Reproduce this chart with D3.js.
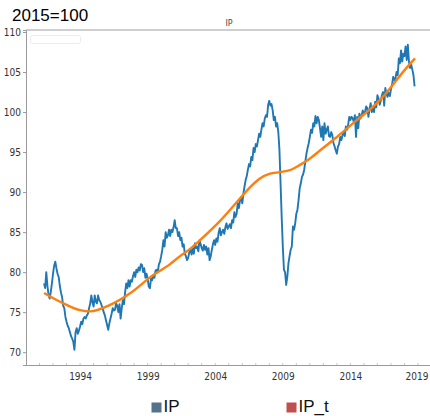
<!DOCTYPE html>
<html><head><meta charset="utf-8">
<script src="https://cdn.jsdelivr.net/npm/d3@7"></script>
<style>body{margin:0;background:#fff}svg{display:block}</style>
</head><body><svg id="c" width="430" height="416"></svg>
<script>
// ---- data ----
const startYear = 1991, startMonth = 5; // first monthly observation
const ipValues = [
// 1991 May-Dec
78.6,78.0,80.0,78.3,77.2,76.7,77.5,78.6,
// 1992
79.8,80.8,81.3,80.5,79.8,79.4,78.3,77.5,76.9,75.8,75.5,74.4,
// 1993
73.8,73.3,73.0,72.5,72.0,71.7,71.3,70.3,72.5,73.0,72.3,72.7,
// 1994
73.2,73.8,73.5,74.2,74.4,74.2,74.6,74.8,75.5,76.1,77.1,76.2,
// 1995
75.7,77.1,76.3,76.1,77.1,76.5,76.3,75.9,75.5,75.0,74.6,74.0,
// 1996
73.4,72.8,73.6,74.2,74.8,75.5,75.2,75.3,76.1,75.8,75.0,76.0,
// 1997
74.2,75.5,76.5,76.0,77.5,78.6,78.0,79.0,78.2,79.0,78.8,79.5,
// 1998
80.0,79.4,80.3,80.0,80.6,80.2,81.0,80.9,80.0,80.5,79.3,79.8,
// 1999
79.2,78.2,78.0,79.2,79.0,79.6,79.3,80.2,80.3,80.0,81.0,81.3,
// 2000
82.0,82.8,84.0,83.2,85.0,84.3,84.6,85.3,84.5,85.3,85.0,85.6,
// 2001
86.5,85.5,85.5,84.5,85.0,84.0,84.3,83.2,83.5,82.3,82.0,81.5,
// 2002
81.8,82.5,82.8,82.2,83.0,82.3,83.6,83.0,83.2,82.6,84.0,83.5,
// 2003
83.0,82.7,83.4,82.8,83.2,82.2,83.0,81.5,82.0,82.8,83.5,84.0,
// 2004
83.4,84.2,83.8,84.9,85.5,84.6,85.0,85.3,84.8,85.6,86.1,85.4,
// 2005
85.7,86.0,85.5,86.5,86.2,87.5,86.9,87.3,88.6,88.0,89.0,89.4,
// 2006
88.6,89.8,90.7,91.5,92.0,92.8,93.5,93.2,94.4,94.0,95.5,95.0,
// 2007
96.0,95.7,96.5,97.3,96.9,97.8,98.6,98.2,99.2,99.6,99.4,100.9,
// 2008
101.4,100.8,101.0,100.2,99.0,99.4,98.2,98.6,97.5,95.3,91.1,86.9,
// 2009
83.2,80.3,80.0,78.4,79.4,81.1,82.0,82.8,83.2,85.7,85.3,86.1,
// 2010
87.3,87.8,89.0,90.5,91.1,91.9,92.2,92.8,93.8,94.8,95.5,96.1,
// 2011
96.9,97.8,97.4,98.6,98.2,99.5,98.6,99.4,99.0,98.0,96.9,98.2,
// 2012
96.5,98.6,97.3,97.8,98.2,97.0,96.9,97.5,97.1,96.1,95.7,95.2,
// 2013
94.8,95.7,96.0,96.9,96.5,97.1,97.5,97.0,98.2,97.8,98.4,99.4,
// 2014
99.0,99.4,99.2,98.8,99.6,96.9,99.4,98.0,99.8,99.2,99.6,100.2,
// 2015
99.8,100.0,100.7,100.5,99.4,100.4,101.1,100.0,100.5,100.0,101.3,100.6,
// 2016
102.1,101.7,100.9,101.4,102.1,102.5,100.8,103.0,102.3,101.9,102.4,102.0,
// 2017
102.8,103.4,104.4,104.0,104.2,105.0,104.6,106.7,106.1,107.7,106.3,107.3,
// 2018 Jan-Oct
107.0,108.2,106.5,108.4,106.3,105.5,105.9,105.3,104.6,103.2
];
const trendYears  = [1991.34,1992.52,1994.0,1994.74,1996.22,1997.70,1999.18,2000.66,2001.40,2002.14,2002.88,2004.36,2005.83,2006.57,2007.31,2008.05,2008.79,2009.53,2010.27,2011.01,2011.75,2012.86,2014.34,2015.82,2016.56,2018.04,2018.78];
const trendValues = [77.4,76.3,75.25,75.1,75.9,77.35,79.35,81.0,82.0,82.9,84.0,86.4,89.2,90.6,91.7,92.3,92.5,92.75,93.4,94.2,95.2,96.7,98.8,100.9,102.2,105.3,106.7];
const yTickValues = [70,75,80,85,90,95,100,105,110];
const xTickYears = [1994,1999,2004,2009,2014,2019];
const legendLabels = ["IP","IP_t"];
const legendColors = ["#56718c","#c0504d"];
const unitLabel = "2015=100";
const chartTitle = "IP";

// ---- drawing ----
const svg = d3.select("#c");
const L = 26, R = 430, T = 30, B = 365;
const x = d3.scaleLinear().domain([1990.0, 2019.89]).range([L, R]);
const y = d3.scaleLinear().domain([68.4, 110.25]).range([B, T]);

const ip = ipValues.map((v, i) => ({t: startYear + (startMonth - 1 + i) / 12, v}));
const trend = trendYears.map((t, i) => ({t, v: trendValues[i]}));

// frame
svg.append("line").attr("x1", L).attr("x2", R).attr("y1", T).attr("y2", T)
  .attr("stroke", "#cfcfcf").attr("stroke-width", 2);
// faint empty legend frame
svg.append("rect").attr("x", 30.5).attr("y", 35.5).attr("width", 50).attr("height", 8)
  .attr("rx", 2).attr("fill", "none").attr("stroke", "#ececec");

// axes
const yAxis = d3.axisLeft(y).tickValues(yTickValues).tickSize(3).tickPadding(2).tickFormat(d3.format("d"));
const gy = svg.append("g").attr("transform", `translate(${L},0)`).call(yAxis);
const xAxis = d3.axisBottom(x).tickValues(xTickYears).tickSize(0).tickPadding(8).tickFormat(d3.format("d"));
const gx = svg.append("g").attr("transform", `translate(0,${B})`).call(xAxis);
[gy, gx].forEach(g => {
  g.select(".domain").attr("stroke", "#9a9a9a");
  g.selectAll(".tick line").attr("stroke", "#9a9a9a");
  g.selectAll(".tick text").attr("fill", "#333")
   .attr("font-family", "'DejaVu Sans Condensed', 'DejaVu Sans'")
   .attr("font-size", 10);
});
// keep the last year label inside the canvas
gx.selectAll(".tick text").filter(d => d === 2019).attr("dx", -1.5);
// minor yearly ticks
svg.append("g").selectAll("line").data(d3.range(1991, 2020)).join("line")
  .attr("x1", d => x(d)).attr("x2", d => x(d)).attr("y1", B - 2).attr("y2", B)
  .attr("stroke", "#c8c8c8");

// series
svg.append("path").datum(ip)
  .attr("d", d3.line().x(d => x(d.t)).y(d => y(d.v)))
  .attr("fill", "none").attr("stroke", "#1f77b4").attr("stroke-width", 1.9).attr("stroke-linejoin", "round");
svg.append("path").datum(trend)
  .attr("d", d3.line().curve(d3.curveMonotoneX).x(d => x(d.t)).y(d => y(d.v)))
  .attr("fill", "none").attr("stroke", "#ff7f0e").attr("stroke-width", 2.4);

// texts
svg.append("text").attr("x", 12).attr("y", 21).text(unitLabel)
  .attr("font-family", "Liberation Sans, Arial").attr("font-size", 17).attr("fill", "#000");
svg.append("text").attr("x", 229).attr("y", 26).attr("text-anchor", "middle").text(chartTitle)
  .attr("font-family", "DejaVu Sans").attr("font-size", 8).attr("fill", "#444");

// bottom legend
const lx = [151.5, 286.5];
const lg = svg.append("g").selectAll("g").data(legendLabels).join("g")
  .attr("transform", (d, i) => `translate(${lx[i]},402.5)`);
lg.append("rect").attr("width", 10).attr("height", 10).attr("fill", (d, i) => legendColors[i]);
lg.append("text").attr("x", 12).attr("y", 9).text(d => d)
  .attr("font-family", "Liberation Sans, Arial").attr("font-size", 17).attr("fill", "#111");
</script></body></html>
